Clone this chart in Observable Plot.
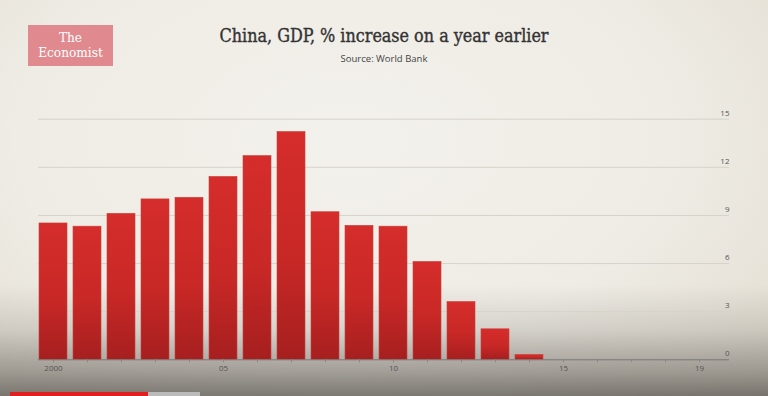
<!DOCTYPE html>
<html>
<head>
<meta charset="utf-8">
<script src="https://cdn.jsdelivr.net/npm/d3@7"></script>
<script src="https://cdn.jsdelivr.net/npm/@observablehq/plot@0.6"></script>
<style>
  html, body { margin: 0; padding: 0; }
  body {
    width: 768px; height: 396px; overflow: hidden; position: relative;
    background:
      linear-gradient(to bottom, rgba(0,0,0,0) 0px, rgba(0,0,0,0) 285px, rgba(60,55,50,0.14) 330px, rgba(60,55,50,0.42) 372px, rgba(50,46,42,0.6) 396px),
      radial-gradient(ellipse at 45% 35%, #f3f1ec 0%, #efece5 55%, #e0dbcf 100%);
  }
  #logo {
    position: absolute; left: 28px; top: 25px; width: 85px; height: 41px;
    background: #e08a8f; color: #fff; text-align: center;
    font-family: "DejaVu Serif Condensed", "Liberation Serif", serif; font-size: 13.5px; line-height: 15px;
    padding-top: 5px; box-sizing: border-box;
  }
  #header { height: 100px; position: relative; }
  #title {
    position: absolute; left: 0; width: 768px; top: 25px; text-align: center;
    font-family: "DejaVu Serif Condensed", "DejaVu Serif", serif; font-weight: normal;
    -webkit-text-stroke: 0.35px #333;
    font-size: 17.8px; color: #333;
  }
  #subtitle {
    position: absolute; left: 0; width: 768px; top: 52px; text-align: center;
    font-family: "Open Sans", sans-serif; font-size: 9.5px; color: #444;
  }
  #progress { position: absolute; left: 10px; top: 392px; width: 138px; height: 4px; background: #e02020; }
  #progress2 { position: absolute; left: 148px; top: 392px; width: 52px; height: 4px; background: #bbb; }
  svg { display: block; background: transparent; }
</style>
</head>
<body>
<div id="header">
  <div id="logo">The<br>Economist</div>
  <div id="title">China, GDP, % increase on a year earlier</div>
  <div id="subtitle">Source: World Bank</div>
</div>
<div id="chart"></div>
<div id="progress"></div>
<div id="progress2"></div>
<script>
const years = [2000, 2001, 2002, 2003, 2004, 2005, 2006, 2007, 2008, 2009,
               2010, 2011, 2012, 2013, 2014, 2015, 2016, 2017, 2018, 2019];
const growth = [8.5, 8.3, 9.1, 10.0, 10.1, 11.4, 12.7, 14.2, 9.2, 8.35,
                8.3, 6.1, 3.6, 1.9, 0.3, null, null, null, null, null];
const xTicks = [2000, 2005, 2010, 2015, 2019];
const xTickLabels = ["2000", "05", "10", "15", "19"];
const yTicks = [0, 3, 6, 9, 12, 15];

const data = years.map((year, i) => ({year, value: growth[i]}));
const labelOf = new Map(xTicks.map((t, i) => [t, xTickLabels[i]]));

const chart = Plot.plot({
  width: 768,
  height: 296,
  marginLeft: 38,
  marginRight: 39,
  marginTop: 18.7,
  marginBottom: 36.7,
  style: {background: "transparent", fontFamily: "Open Sans, sans-serif", fontSize: "8px", color: "#555"},
  x: {type: "band", domain: years, range: [34.6, 716.7], paddingInner: 0.18, paddingOuter: 0.09, label: null},
  y: {domain: [0, 15], label: null, axis: null},
  marks: [
    Plot.ruleY(yTicks.filter(d => d > 0), {stroke: "#d6d3cb", strokeWidth: 1}),
    Plot.text(yTicks, {y: d => d, text: d => String(d), frameAnchor: "right", textAnchor: "end", dy: -6, fill: "#555", fontSize: 8}),
    Plot.barY(data.filter(d => d.value != null), {x: "year", y: "value", fill: "url(#barGrad)", stroke: "#c9403c", strokeWidth: 0.6}),
    Plot.ruleY([0], {stroke: "#777", strokeWidth: 1}),
    Plot.axisX(years, {tickSize: 3, stroke: "#888", tickFormat: () => "", label: null}),
    Plot.axisX(xTicks, {tickSize: 0, tickPadding: 6, tickFormat: d => labelOf.get(d), fill: "#555", fontSize: 8, label: null})
  ]
});

const defs = d3.select(chart).insert("defs", ":first-child");
const grad = defs.append("linearGradient").attr("id", "barGrad").attr("x1", 0).attr("x2", 0).attr("y1", 0).attr("y2", 1);
grad.append("stop").attr("offset", "0%").attr("stop-color", "#d52d2b");
grad.append("stop").attr("offset", "55%").attr("stop-color", "#c82826");
grad.append("stop").attr("offset", "100%").attr("stop-color", "#a61f1f");

document.getElementById("chart").appendChild(chart);
</script>
</body>
</html>
